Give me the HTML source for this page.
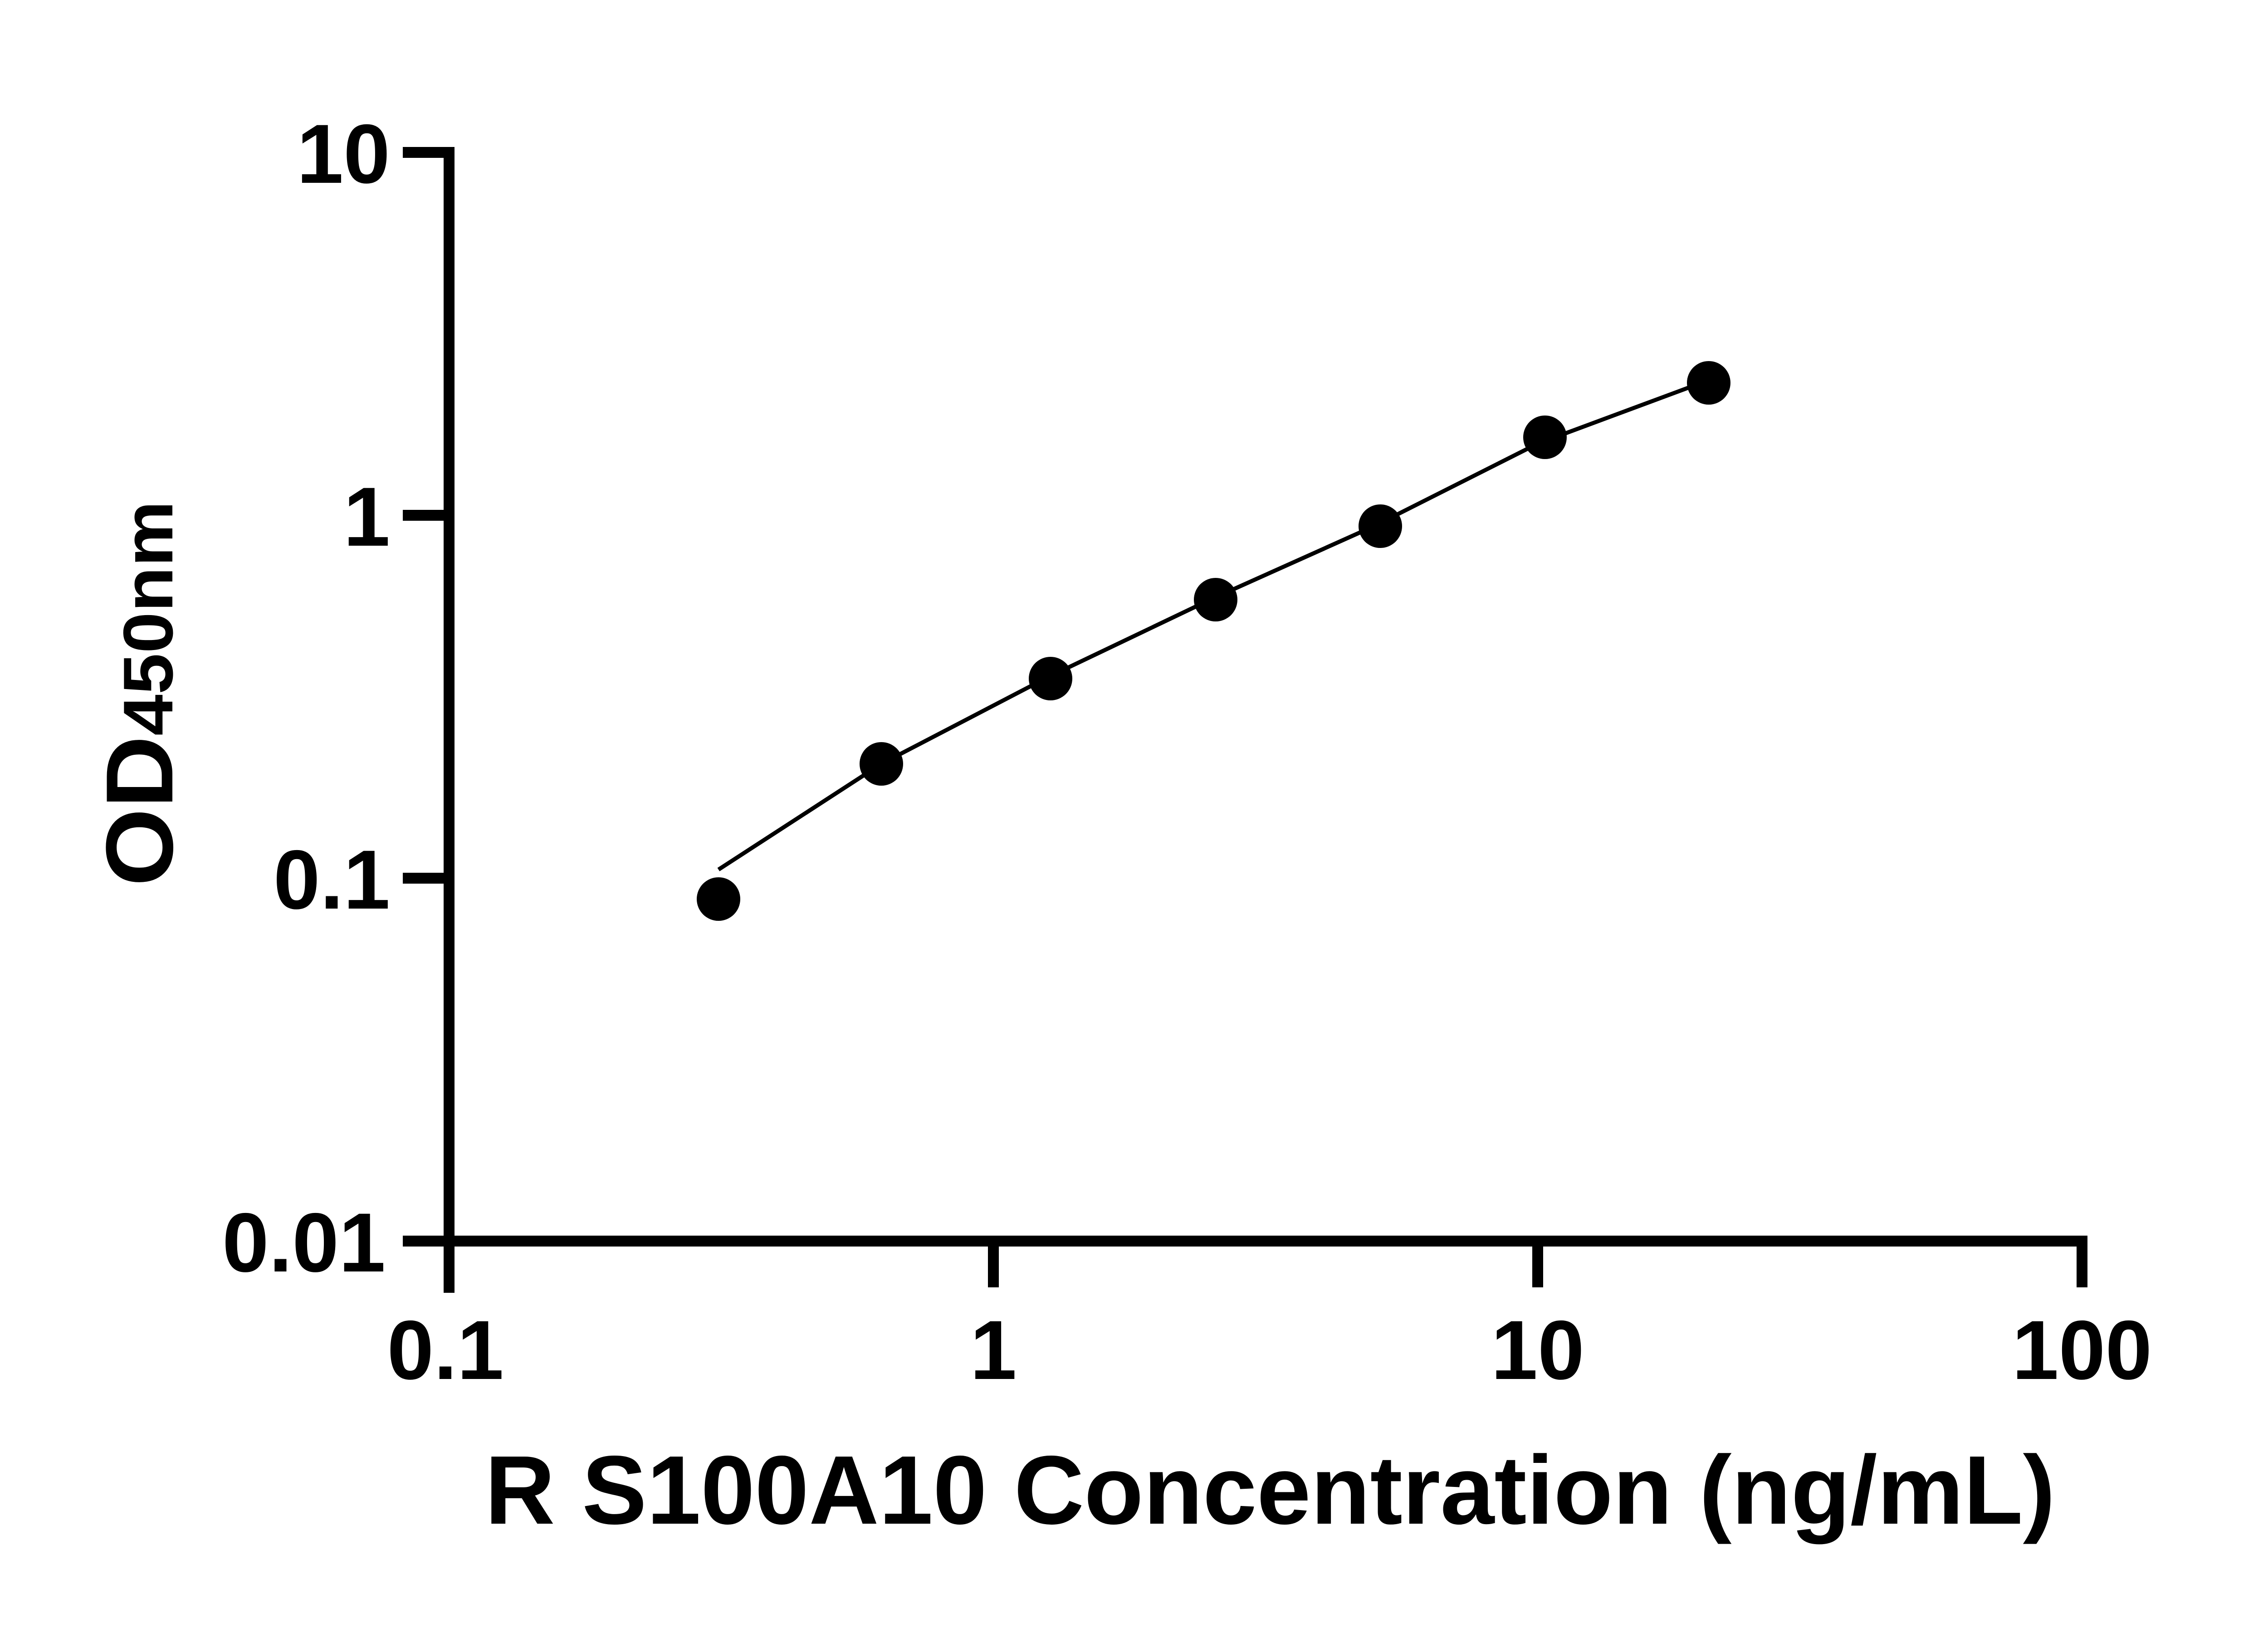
<!DOCTYPE html>
<html><head><meta charset="utf-8"><style>html,body{margin:0;padding:0;background:#fff}svg{display:block}</style></head>
<body>
<svg width="5142" height="3600" viewBox="0 0 5142 3600" xmlns="http://www.w3.org/2000/svg" font-family="'Liberation Sans', sans-serif" font-weight="bold">
<rect width="5142" height="3600" fill="#fff"/>
<g stroke="#000" stroke-width="24" fill="none">
<line x1="990" y1="324" x2="990" y2="2850"/>
<line x1="888" y1="2736" x2="4602" y2="2736"/>
<line x1="888" y1="336" x2="990" y2="336"/>
<line x1="888" y1="1136" x2="990" y2="1136"/>
<line x1="888" y1="1936" x2="990" y2="1936"/>
<line x1="2190" y1="2736" x2="2190" y2="2838"/>
<line x1="3390" y1="2736" x2="3390" y2="2838"/>
<line x1="4590" y1="2736" x2="4590" y2="2838"/>
</g>
<g font-size="185" text-anchor="end">
<text x="860" y="403">10</text>
<text x="860" y="1203">1</text>
<text x="860" y="2003">0.1</text>
<text x="850" y="2803">0.01</text>
</g>
<g font-size="185" text-anchor="middle">
<text x="982" y="3040">0.1</text>
<text x="2190" y="3040">1</text>
<text x="3390" y="3040">10</text>
<text x="4590" y="3040">100</text>
</g>
<text x="1069" y="3359" font-size="215" textLength="3462" lengthAdjust="spacingAndGlyphs">R S100A10 Concentration (ng/mL)</text>
<text transform="translate(380,1954) rotate(-90)" textLength="850" lengthAdjust="spacingAndGlyphs"><tspan font-size="210">OD</tspan><tspan font-size="155">450nm</tspan></text>
<path d="M1584,1917 L1943,1684 L2306,1495 L2668,1322 L3029,1160 L3390,978 L3751,844" stroke="#000" stroke-width="9" fill="none"/>
<g fill="#000">
<circle cx="1584" cy="1982" r="48"/>
<circle cx="1943" cy="1684" r="48"/>
<circle cx="2316" cy="1496" r="48"/>
<circle cx="2680" cy="1322" r="48"/>
<circle cx="3043" cy="1160" r="48"/>
<circle cx="3406" cy="964" r="48"/>
<circle cx="3767" cy="844" r="48"/>
</g>
</svg>
</body></html>
